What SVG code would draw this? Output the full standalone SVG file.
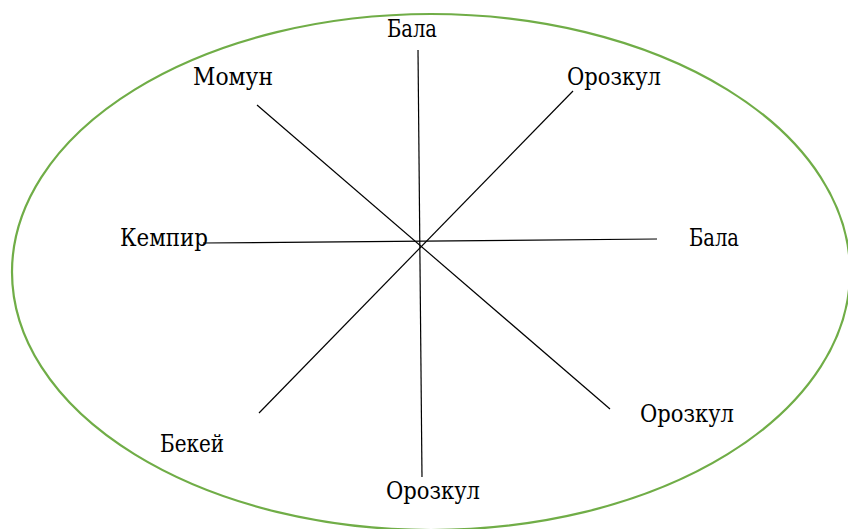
<svg xmlns="http://www.w3.org/2000/svg" width="848" height="529" viewBox="0 0 848 529">
<style>
.ln{stroke:#000;stroke-width:1.2;fill:none}
</style>
<rect width="848" height="529" fill="#fff"/>
<g id="oval"><ellipse cx="431" cy="272" rx="419" ry="258" fill="none" stroke="#70AD47" stroke-width="2.2"/></g>
<g id="connectors">
<line class="ln" x1="418" y1="50" x2="422" y2="477"/>
<line class="ln" x1="203" y1="243" x2="657" y2="239"/>
<line class="ln" x1="257" y1="105" x2="610" y2="409"/>
<line class="ln" x1="573" y1="91" x2="259" y2="413"/>
</g>
<g font-family="DejaVu Serif Condensed, DejaVu Serif, serif" font-size="24" fill="#000">
<g id="n-bala-top"><text x="412" y="37" text-anchor="middle" textLength="50" lengthAdjust="spacingAndGlyphs">Бала</text></g>
<g id="n-momun"><text x="233" y="85" text-anchor="middle" textLength="80" lengthAdjust="spacingAndGlyphs">Момун</text></g>
<g id="n-orozkul-tr"><text x="614" y="85" text-anchor="middle" textLength="94" lengthAdjust="spacingAndGlyphs">Орозкул</text></g>
<g id="n-kempir"><text x="120" y="246" textLength="88" lengthAdjust="spacingAndGlyphs">Кемпир</text></g>
<g id="n-bala-right"><text x="714" y="246" text-anchor="middle" textLength="50" lengthAdjust="spacingAndGlyphs">Бала</text></g>
<g id="n-orozkul-br"><text x="687" y="422" text-anchor="middle" textLength="94" lengthAdjust="spacingAndGlyphs">Орозкул</text></g>
<g id="n-bekei"><text x="192" y="452" text-anchor="middle" textLength="64" lengthAdjust="spacingAndGlyphs">Бекей</text></g>
<g id="n-orozkul-b"><text x="433" y="499" text-anchor="middle" textLength="94" lengthAdjust="spacingAndGlyphs">Орозкул</text></g>
</g>
</svg>
